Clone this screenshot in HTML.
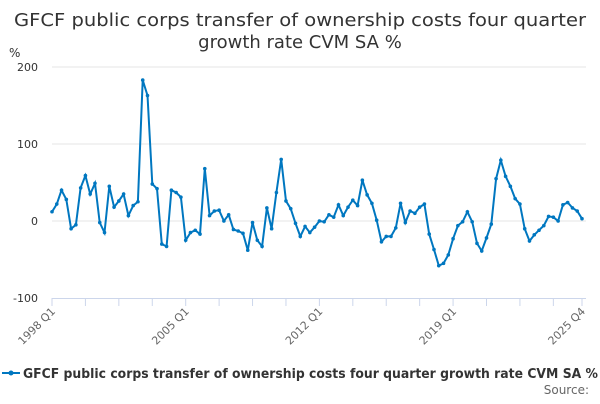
<!DOCTYPE html>
<html><head><meta charset="utf-8"><style>
body{margin:0;width:600px;height:400px;overflow:hidden;background:#fff;font-family:"DejaVu Sans","Liberation Sans",sans-serif}
svg text{font-family:"DejaVu Sans","Liberation Sans",sans-serif}
</style></head><body>
<svg width="600" height="400" id="c">
<text x="300" y="26" text-anchor="middle" font-size="18" fill="#333" textLength="572" lengthAdjust="spacingAndGlyphs">GFCF public corps transfer of ownership costs four quarter</text>
<text x="300" y="48" text-anchor="middle" font-size="18" fill="#333">growth rate CVM SA %</text>
<text x="9" y="57" font-size="12" fill="#333">%</text>
<g id="grid"></g><g id="xax"></g><g id="series"></g>
<g>
<line x1="2" y1="373" x2="20" y2="373" stroke="#0077c0" stroke-width="2"/>
<circle cx="11" cy="373" r="2.5" fill="#0077c0"/>
<text x="23" y="378" font-size="13" font-weight="bold" fill="#333" textLength="575" lengthAdjust="spacingAndGlyphs">GFCF public corps transfer of ownership costs four quarter growth rate CVM SA %</text>
</g>
<text x="589" y="394" text-anchor="end" font-size="12" fill="#666">Source:</text>
</svg>
<script>
const yTicks=[200,100,0,-100];
const xLabels=["1998 Q1","2005 Q1","2012 Q1","2019 Q1","2025 Q4"];
const xLabelIdx=[0,28,56,84,111];
const values=[12,22,40,28,-10,-5,43,59,35,49,-2,-15,45,18,26,35,7,20,25,183,163,48,42,-30,-33,40,37,31,-25,-15,-12,-17,68,7,13,14,0,8,-11,-13,-16,-38,-2,-25,-33,17,-10,37,80,26,16,-3,-20,-7,-15,-8,0,-1,8,5,21,7,18,27,20,53,34,23,1,-27,-20,-20,-9,23,-2,13,10,18,22,-17,-37,-58,-55,-44,-23,-6,-1,12,-1,-29,-39,-22,-4,55,79,58,45,29,22,-10,-26,-18,-12,-6,6,5,0,21,24,17,13,3];
const NS="http://www.w3.org/2000/svg";
const x0=52,x1=582,yTop=67,yBot=298;
const xs=i=>x0+(x1-x0)*i/(values.length-1);
const ys=v=>221-v*0.77;
function mk(t,a,p){const e=document.createElementNS(NS,t);for(const k in a)e.setAttribute(k,a[k]);p.appendChild(e);return e;}
const g=document.getElementById('grid');
yTicks.forEach(v=>{
 if(v>-100){const l=mk('line',{x1:x0,x2:x1+4,y1:ys(v),y2:ys(v),stroke:'#e6e6e6','stroke-width':1},g);
 
 }
 const t=mk('text',{x:38,y:ys(v)+4,'text-anchor':'end','font-size':11,fill:'#333'},g);t.textContent=v;
 
 
});
const xa=document.getElementById('xax');
const al=mk('line',{x1:x0,x2:x1+4,y1:yBot+0.5,y2:yBot+0.5,stroke:'#ccd6eb','stroke-width':1},xa);


for(let i=0;i<values.length;i+=7){mk('line',{x1:xs(i),x2:xs(i),y1:yBot,y2:yBot+8,stroke:'#ccd6eb'},xa);}
mk('line',{x1:xs(111),x2:xs(111),y1:yBot,y2:yBot+8,stroke:'#ccd6eb'},xa);
xLabels.forEach((s,k)=>{const x=xs(xLabelIdx[k])+4,y=yBot+14;
 const t=mk('text',{x:x,y:y,'text-anchor':'end','font-size':11,fill:'#666',transform:`rotate(-45 ${x} ${y})`},xa);t.textContent=s;
 
 });
const s=document.getElementById('series');
const p=mk('path',{d:values.map((v,i)=>(i?'L':'M')+xs(i).toFixed(1)+','+ys(v).toFixed(1)).join(''),fill:'none',stroke:'#0077c0','stroke-width':2},s);


values.forEach((v,i)=>{const c=mk('circle',{cx:xs(i),cy:ys(v),r:1.8,fill:'#0077c0'},s);
 
 });
</script>
</body></html>
